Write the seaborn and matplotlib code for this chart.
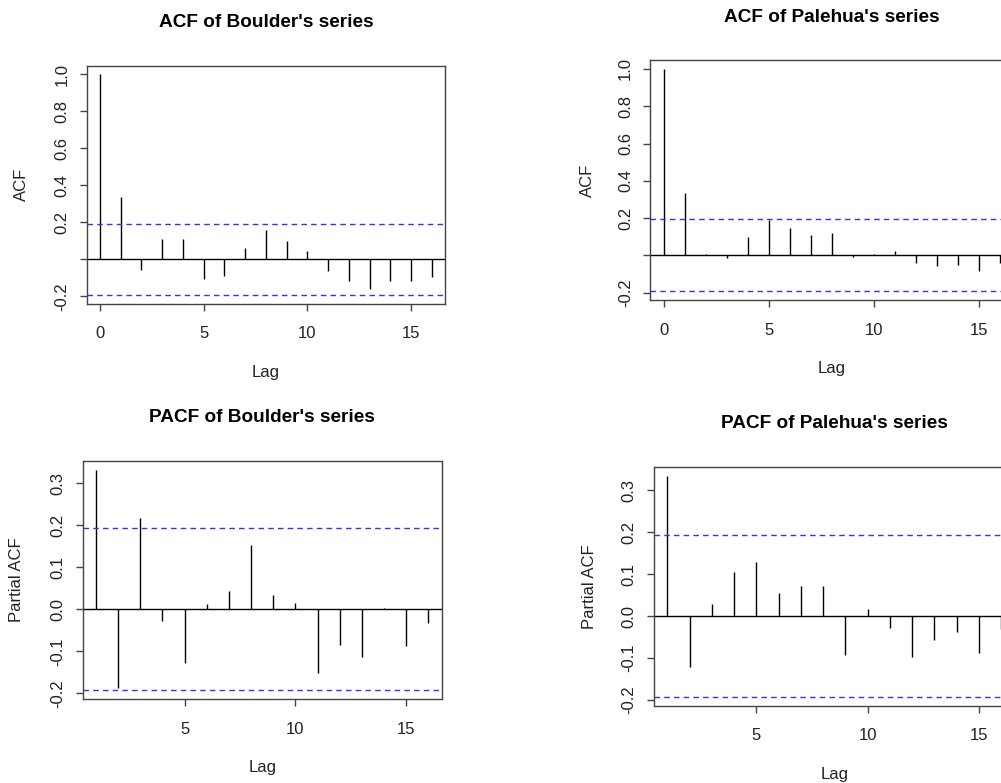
import numpy as np
import pandas as pd
import matplotlib
matplotlib.use("Agg")
import matplotlib.pyplot as plt
import seaborn as sns

# ---- data ----
acf_lags = list(range(0, 17))
pacf_lags = list(range(1, 17))

boulder_acf = [1.0, 0.336, -0.056, 0.110, 0.110, -0.104, -0.088, 0.061, 0.158,
               0.101, 0.047, -0.063, -0.119, -0.158, -0.115, -0.119, -0.094]
palehua_acf = [1.0, 0.336, 0.009, -0.014, 0.100, 0.189, 0.146, 0.111, 0.118,
               -0.009, 0.009, 0.025, -0.041, -0.057, -0.052, -0.082, -0.043]
boulder_pacf = [0.332, -0.187, 0.218, -0.029, -0.127, 0.013, 0.043, 0.153, 0.034,
                0.015, -0.151, -0.084, -0.113, 0.004, -0.087, -0.032]
palehua_pacf = [0.335, -0.121, 0.030, 0.106, 0.130, 0.056, 0.071, 0.073, -0.092,
                0.018, -0.029, -0.098, -0.057, -0.038, -0.088, -0.030]
ci_bound = 0.193

titles = ["ACF of Boulder's series", "ACF of Palehua's series",
          "PACF of Boulder's series", "PACF of Palehua's series"]
ylabels = ["ACF", "ACF", "Partial ACF", "Partial ACF"]
acf_yticks = [-0.2, 0.0, 0.2, 0.4, 0.6, 0.8, 1.0]
acf_yticklabels = ["-0.2", "", "0.2", "0.4", "0.6", "0.8", "1.0"]
pacf_yticks = [-0.2, -0.1, 0.0, 0.1, 0.2, 0.3]
pacf_yticklabels = ["-0.2", "-0.1", "0.0", "0.1", "0.2", "0.3"]
acf_xticks = [0, 5, 10, 15]
pacf_xticks = [5, 10, 15]

# ---- style ----
sns.set_theme(style="white")
plt.rcParams["font.family"] = ["Liberation Sans", "DejaVu Sans"]

W, H = 1001, 783
fig = plt.figure(figsize=(W / 100, H / 100), dpi=100)

# axes frames in pixels: left, right, top, bottom
frames = [
    (86.7, 445.0, 65.5, 304.0),
    (650.3, 1013.7, 60.0, 300.3),
    (82.7, 441.7, 460.7, 699.3),
    (654.0, 1014.6, 466.7, 706.0),
]
ylab_off = [65, 63, 66, 64]

panels = [
    (acf_lags, boulder_acf, acf_yticks, acf_yticklabels, acf_xticks),
    (acf_lags, palehua_acf, acf_yticks, acf_yticklabels, acf_xticks),
    (pacf_lags, boulder_pacf, pacf_yticks, pacf_yticklabels, pacf_xticks),
    (pacf_lags, palehua_pacf, pacf_yticks, pacf_yticklabels, pacf_xticks),
]

px = 72 / 100  # points per pixel

for i, ((lags, vals, yt, ytl, xt), (l, r, t, b)) in enumerate(zip(panels, frames)):
    ax = fig.add_axes([l / W, 1 - b / H, (r - l) / W, (b - t) / H])
    df = pd.DataFrame({"lag": lags, "value": vals})
    # spikes
    ax.vlines(df["lag"], 0, df["value"], color="black", linewidth=1.0)
    ax.axhline(0, color="black", linewidth=1.0)
    ax.axhline(ci_bound, color="#3333ff", linewidth=1.0, linestyle=(0, (4, 3)))
    ax.axhline(-ci_bound, color="#3333ff", linewidth=1.0, linestyle=(0, (4, 3)))
    # R-style 4% padding
    x0, x1 = min(lags), max(lags)
    xp = 0.04 * (x1 - x0)
    ax.set_xlim(x0 - xp, x1 + xp)
    y0, y1 = min(min(vals), -ci_bound), max(max(vals), ci_bound)
    yp = 0.04 * (y1 - y0)
    ax.set_ylim(y0 - yp, y1 + yp)

    ax.set_xticks(xt)
    ax.set_xticklabels([str(v) for v in xt])
    ax.set_yticks(yt)
    ax.set_yticklabels(ytl, rotation=90, va="center")

    for s in ax.spines.values():
        s.set_color("#444444")
        s.set_linewidth(1.0)
    ax.tick_params(axis="both", direction="out", length=7 * px, width=1.0,
                   color="#444444", labelsize=12, labelcolor="#222222",
                   left=True, bottom=True)
    ax.tick_params(axis="x", pad=11)
    ax.tick_params(axis="y", pad=7.5)
    ax.grid(False)

    ax.annotate(titles[i], xy=(0.5, 1), xycoords="axes fraction",
                xytext=(0, 43 * px), textcoords="offset points",
                ha="center", va="center", fontsize=13.7, fontweight="bold",
                color="black")
    ax.annotate("Lag", xy=(0.5, 0), xycoords="axes fraction",
                xytext=(0, -68 * px), textcoords="offset points",
                ha="center", va="center", fontsize=12, color="#222222")
    ax.annotate(ylabels[i], xy=(0, 0.5), xycoords="axes fraction",
                xytext=(-ylab_off[i] * px, 0), textcoords="offset points",
                ha="center", va="center", rotation=90, fontsize=12,
                color="#222222")

fig.savefig("out.png", dpi=100, facecolor="white")
